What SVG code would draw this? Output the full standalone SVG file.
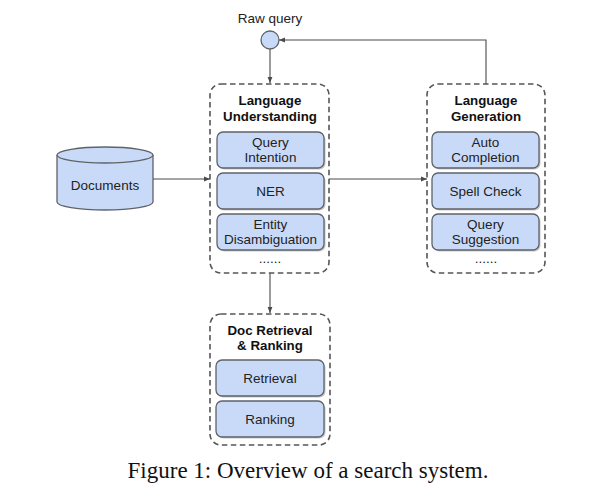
<svg xmlns="http://www.w3.org/2000/svg" width="600" height="500" viewBox="0 0 600 500">
<defs>
<marker id="ah" viewBox="0 0 10 10" refX="10" refY="5" markerWidth="6" markerHeight="6" orient="auto" markerUnits="userSpaceOnUse">
<path d="M0,1 L10,5 L0,9 z" fill="#4a4a4a"/>
</marker>
<style>
.grp{fill:none;stroke:#555;stroke-width:1.6;stroke-dasharray:5.5 3.5}
.box{fill:#c9daf8;stroke:#5f6368;stroke-width:1.3}
.sh{fill:#9a9a9a;opacity:0.55}
.t{font-family:"Liberation Sans",Arial,sans-serif;font-size:13.5px;fill:#222;text-anchor:middle}
.h{font-family:"Liberation Sans",Arial,sans-serif;font-size:13.3px;font-weight:bold;fill:#111;text-anchor:middle}
.c{fill:none;stroke:#4a4a4a;stroke-width:1.1}
</style>
</defs>
<rect width="600" height="500" fill="#fff"/>

<g id="connectors">
<path class="c" d="M270,49 V83" marker-end="url(#ah)"/>
<path class="c" d="M486,84 V40 H279" marker-end="url(#ah)"/>
<path class="c" d="M153,179 H210" marker-end="url(#ah)"/>
<path class="c" d="M329,179 H427" marker-end="url(#ah)"/>
<path class="c" d="M270,273 V313" marker-end="url(#ah)"/>
</g>

<g id="raw-query">
<text class="t" x="270" y="23" font-size="13">Raw query</text>
<circle cx="270" cy="40" r="9" fill="#c9daf8" stroke="#5f6368" stroke-width="1.3"/>
</g>

<g id="documents">
<path d="M57,155 V202 A48,8 0 0 0 153,202 V155" fill="#c9daf8" stroke="#5f6368" stroke-width="1.3"/>
<ellipse cx="105" cy="155" rx="48" ry="8" fill="#c9daf8" stroke="#5f6368" stroke-width="1.3"/>
<text class="t" x="105" y="190">Documents</text>
</g>

<g id="language-understanding">
<rect class="grp" x="210" y="84" width="119" height="189" rx="11"/>
<text class="h" x="270" y="105">Language</text>
<text class="h" x="270" y="121">Understanding</text>
<rect class="sh" x="218.5" y="133.5" width="107" height="36" rx="6"/>
<rect class="box" x="217" y="132" width="107" height="36" rx="6"/>
<text class="t" x="270.5" y="147">Query</text>
<text class="t" x="270.5" y="162">Intention</text>
<rect class="sh" x="218.5" y="174.5" width="107" height="36" rx="6"/>
<rect class="box" x="217" y="173" width="107" height="36" rx="6"/>
<text class="t" x="270.5" y="196">NER</text>
<rect class="sh" x="218.5" y="215.5" width="107" height="36" rx="6"/>
<rect class="box" x="217" y="214" width="107" height="36" rx="6"/>
<text class="t" x="270.5" y="229">Entity</text>
<text class="t" x="270.5" y="244">Disambiguation</text>
<text class="t" x="270" y="263">......</text>
</g>

<g id="language-generation">
<rect class="grp" x="427" y="84" width="118" height="189" rx="11"/>
<text class="h" x="486" y="105">Language</text>
<text class="h" x="486" y="121">Generation</text>
<rect class="sh" x="433.5" y="133.5" width="107" height="36" rx="6"/>
<rect class="box" x="432" y="132" width="107" height="36" rx="6"/>
<text class="t" x="485.5" y="147">Auto</text>
<text class="t" x="485.5" y="162">Completion</text>
<rect class="sh" x="433.5" y="174.5" width="107" height="36" rx="6"/>
<rect class="box" x="432" y="173" width="107" height="36" rx="6"/>
<text class="t" x="485.5" y="196">Spell Check</text>
<rect class="sh" x="433.5" y="215.5" width="107" height="36" rx="6"/>
<rect class="box" x="432" y="214" width="107" height="36" rx="6"/>
<text class="t" x="485.5" y="229">Query</text>
<text class="t" x="485.5" y="244">Suggestion</text>
<text class="t" x="486" y="263">......</text>
</g>

<g id="doc-retrieval-ranking">
<rect class="grp" x="210" y="314" width="120" height="131" rx="11"/>
<text class="h" x="270" y="335">Doc Retrieval</text>
<text class="h" x="270" y="350">&amp; Ranking</text>
<rect class="sh" x="217.5" y="361.5" width="108" height="36" rx="6"/>
<rect class="box" x="216" y="360" width="108" height="36" rx="6"/>
<text class="t" x="270" y="383">Retrieval</text>
<rect class="sh" x="217.5" y="402.5" width="108" height="36" rx="6"/>
<rect class="box" x="216" y="401" width="108" height="36" rx="6"/>
<text class="t" x="270" y="424">Ranking</text>
</g>

<text x="308" y="478" font-family="Liberation Serif,'Times New Roman',serif" font-size="23" fill="#111" text-anchor="middle">Figure 1: Overview of a search system.</text>
</svg>
